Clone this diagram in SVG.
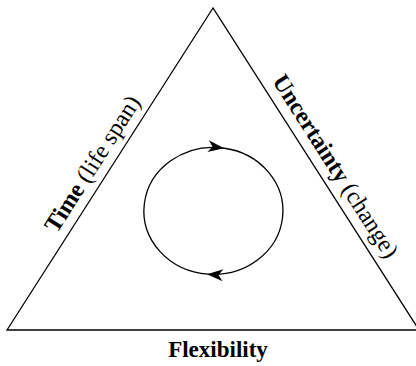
<svg xmlns="http://www.w3.org/2000/svg" width="416" height="366" viewBox="0 0 416 366">
<style>
.edge{fill:none;stroke:#000;stroke-width:1.3}
.lbl{font-family:"Liberation Serif","Times New Roman",serif;font-size:24px;fill:#000}
.b{font-weight:bold}
</style>
<defs>
<marker id="ah" markerUnits="userSpaceOnUse" markerWidth="17" markerHeight="13" refX="15" refY="6" orient="auto" overflow="visible">
<path d="M0,0 L16,6 L0,12 L4.5,6 Z" fill="#000"/>
</marker>
</defs>
<rect width="416" height="366" fill="#fff"/>
<g id="triangle">
<polygon class="edge" points="213,8 7,330 419,330"/>
</g>
<g id="connectors">
<path class="edge" d="M208,274.2 A69.5,63.5 0 1 1 223,148" marker-end="url(#ah)"/>
<path class="edge" d="M223,148 A69.5,63.5 0 0 1 208,274.2" marker-end="url(#ah)"/>
</g>
<g id="label-time">
<text class="lbl" text-anchor="middle" transform="translate(99,168) rotate(-57.4)"><tspan class="b">Time</tspan> (life span)</text>
</g>
<g id="label-uncertainty">
<text class="lbl" text-anchor="middle" transform="translate(329,170.5) rotate(57.4)"><tspan class="b">Uncertainty</tspan> (change)</text>
</g>
<g id="label-flexibility">
<text class="lbl b" x="218" y="357" text-anchor="middle" style="font-size:23px">Flexibility</text>
</g>
</svg>
